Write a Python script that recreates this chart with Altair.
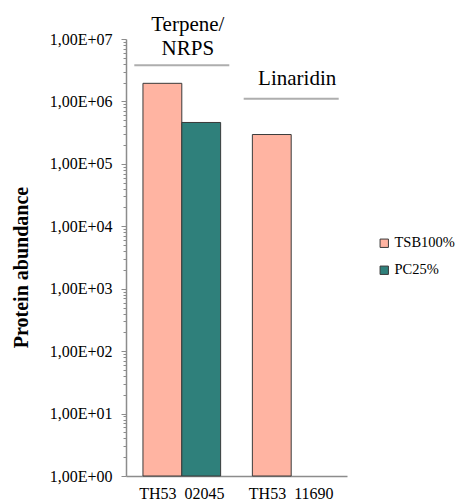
import altair as alt
import pandas as pd

# Bar data
genes = ["TH53\u00a0\u00a002045", "TH53\u00a0\u00a002045", "TH53\u00a0\u00a011690"]
series = ["TSB100%", "PC25%", "TSB100%"]
values = [1.95e6, 4.6e5, 2.95e5]

gene_domain = ["TH53\u00a0\u00a002045", "TH53\u00a0\u00a011690"]
series_domain = ["TSB100%", "PC25%"]
series_colors = ["#FFB4A2", "#2F807B"]

# Annotation data
annot_gene = ["TH53\u00a0\u00a002045", "TH53\u00a0\u00a002045", "TH53\u00a0\u00a011690"]
annot_text = ["Terpene/", "NRPS", "Linaridin"]
annot_y = [1.7e7, 6.9e6, 2.3e6]
line_gene = ["TH53\u00a0\u00a002045", "TH53\u00a0\u00a011690"]
line_y = [3.8e6, 1.1e6]

tick_values = [m * 10 ** k for k in range(7) for m in range(1, 10)] + [1e7]

FONT = "Liberation Serif, Times New Roman, serif"

df = pd.DataFrame({"gene": genes, "series": series, "value": values, "base": [1.0] * len(values)})
ann = pd.DataFrame({"gene": annot_gene, "text": annot_text, "y": annot_y})
lines = pd.DataFrame({"gene": line_gene, "y": line_y})

is_major = "abs(log(datum.value)/LN10 - round(log(datum.value)/LN10)) < 1e-6"
label_expr = (
    f"({is_major}) ? '1,00E+' + (round(log(datum.value)/LN10) < 10 ? '0' : '') "
    "+ round(log(datum.value)/LN10) : ''"
)

x_enc = alt.X(
    "gene:N",
    scale=alt.Scale(domain=gene_domain, paddingInner=0.29, paddingOuter=0.155),
    axis=alt.Axis(
        title=None, labelAngle=0, ticks=False, domainColor="#8c8c8c", domainWidth=1.5,
        labelFont=FONT, labelFontSize=16, labelColor="#000000", labelPadding=9,
    ),
)
y_scale = alt.Scale(type="log", domain=[1, 1e7], nice=False)

bars = alt.Chart(df).mark_bar(stroke="#3a3a3a", strokeWidth=1).encode(
    x=x_enc,
    xOffset=alt.XOffset("series:N", scale=alt.Scale(domain=series_domain, paddingInner=0, paddingOuter=0)),
    y=alt.Y(
        "value:Q",
        scale=y_scale,
        axis=alt.Axis(
            title="Protein abundance", titleFont=FONT, titleFontSize=20, titleFontWeight="bold",
            titleColor="#000000", titlePadding=18, titleY=228,
            values=tick_values, labelExpr=label_expr, labelFont=FONT, labelFontSize=16,
            labelColor="#000000", labelPadding=9, grid=False,
            domainColor="#8c8c8c", domainWidth=1.5, tickColor="#8c8c8c",
            tickSize={"condition": {"test": is_major, "value": 5}, "value": 3},
        ),
    ),
    y2="base:Q",
    color=alt.Color(
        "series:N",
        scale=alt.Scale(domain=series_domain, range=series_colors),
        legend=alt.Legend(
            title=None, orient="none", legendX=251, legendY=197, symbolType="square",
            symbolSize=70, symbolStrokeColor="#3a3a3a", symbolStrokeWidth=1,
            labelFont=FONT, labelFontSize=14.5, labelColor="#000000", rowPadding=12,
            labelOffset=3,
        ),
    ),
)

text = alt.Chart(ann).mark_text(font=FONT, fontSize=21, color="#000000", dx=6, baseline="middle").encode(
    x=alt.X("gene:N", scale=alt.Scale(domain=gene_domain)),
    y=alt.Y("y:Q", scale=y_scale),
    text="text:N",
)

rules = alt.Chart(lines).mark_tick(size=95, thickness=2, color="#8c8c8c", orient="horizontal").encode(
    x=alt.X("gene:N", scale=alt.Scale(domain=gene_domain)),
    y=alt.Y("y:Q", scale=y_scale),
)

chart = (
    alt.layer(bars, rules, text)
    .properties(
        width=221, height=437,
        autosize=alt.AutoSizeParams(type="none"),
        padding={"left": 118, "top": 31, "right": 109, "bottom": 26},
    )
    .configure(background="#ffffff", font=FONT)
    .configure_view(stroke="transparent", strokeWidth=0)
)

chart.save("out.html", embed_options={"renderer": "svg", "actions": False})
